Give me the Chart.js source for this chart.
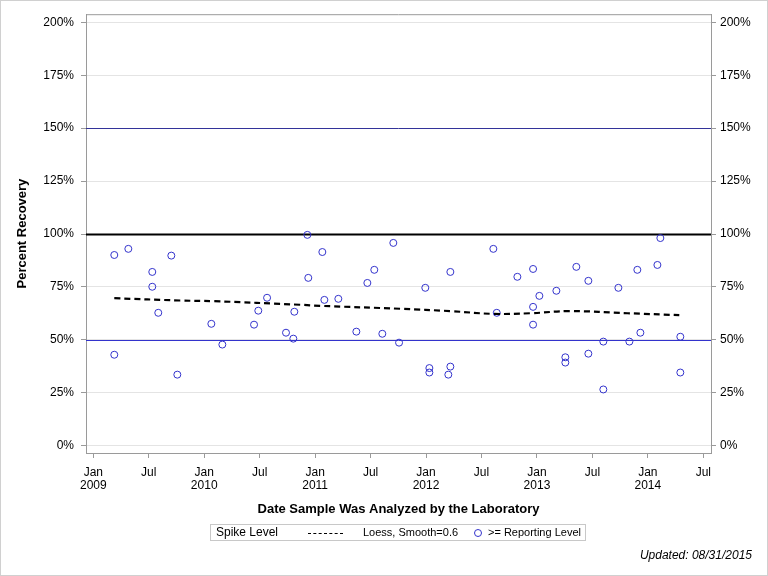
<!DOCTYPE html>
<html>
<head>
<meta charset="utf-8">
<title>Percent Recovery</title>
<script src="https://cdn.jsdelivr.net/npm/chart.js@4"></script>
<style>
    body { margin: 0; background: #fff; font-family: "Liberation Sans", Arial, sans-serif; }
    #wrap { position: relative; width: 768px; height: 576px; }
    #frame { position: absolute; left: 0; top: 0; width: 768px; height: 576px; box-sizing: border-box; border: 1px solid #d0d0d0; pointer-events: none; }
    #legenda { position: absolute; left: 210px; top: 524px; width: 376px; height: 17px; box-sizing: border-box; border: 1px solid #c8c8c8; font-size: 11px; color: #000; }
    #legenda span { position: absolute; top: 1px; white-space: nowrap; }
    #legenda .titulo { left: 5px; top: 0px; font-size: 12px; }
    #legenda .tracos { left: 97px; top: 8px; width: 35px; height: 0; border-top: 1px dashed #000; }
    #legenda .circulo { left: 263px; top: 4px; width: 6px; height: 6px; border: 1px solid #3333cc; border-radius: 50%; }
    #atualizado { position: absolute; right: 16px; top: 548px; font-size: 12px; font-style: italic; color: #000; }
</style>
</head>
<body>
<div id="wrap">
    <canvas id="grafico" width="768" height="576"></canvas>
    <div id="frame"></div>
    <div id="legenda">
        <span class="titulo">Spike Level</span>
        <span class="tracos"></span>
        <span style="left:152px">Loess, Smooth=0.6</span>
        <span class="circulo"></span>
        <span style="left:277px">&gt;= Reporting Level</span>
    </div>
    <div id="atualizado">Updated: 08/31/2015</div>
</div>
<script>
// meses contados a partir de Jan 2009
const amostraMes = [2.27, 3.79, 8.44, 6.38, 6.38, 7.03, 12.77, 13.96, 2.27, 9.09,
    18.80, 17.85, 17.39, 20.85, 21.64, 21.75, 23.16, 23.26, 24.78, 32.46,
    25.00, 26.51, 30.40, 29.65, 28.46, 31.27, 33.08, 35.92, 38.63, 36.36,
    36.36, 38.63, 38.41, 43.28, 43.65, 45.88, 47.58, 48.26, 50.10, 47.58,
    47.58, 52.26, 53.56, 51.07, 51.07, 53.56, 55.18, 55.18, 56.81, 58.00,
    59.19, 58.86, 61.03, 61.35, 63.51, 63.51];
const recuperacao = [90.1, 93.0, 89.8, 82.1, 75.1, 62.8, 57.6, 47.8, 43.0, 33.6,
    69.9, 63.8, 57.2, 53.4, 50.6, 63.3, 99.6, 79.3, 91.5, 95.8,
    68.9, 69.4, 83.1, 76.9, 53.9, 52.9, 48.7, 74.6, 82.1, 36.7,
    34.6, 37.4, 33.6, 93.0, 62.8, 79.8, 83.5, 70.8, 73.2, 65.6,
    57.2, 84.5, 77.9, 41.8, 39.3, 43.5, 49.2, 26.6, 74.6, 49.2,
    53.4, 83.1, 85.4, 98.1, 51.5, 34.6];
const loessMes = [2.27, 9.38, 13.0, 22.37, 24.53, 33.24, 38.65, 43.28, 47.28, 51.6, 57.8, 63.4];
const loessValor = [69.7, 68.6, 68.3, 66.6, 66.1, 64.7, 63.6, 62.3, 62.6, 63.6, 62.6, 61.7];
const niveisRef = [150, 100, 50];
const xTicksMes = [0, 6, 12, 18, 24, 30, 36, 42, 48, 54, 60, 66];
const xTicksTexto = [['Jan', '2009'], 'Jul', ['Jan', '2010'], 'Jul', ['Jan', '2011'], 'Jul',
    ['Jan', '2012'], 'Jul', ['Jan', '2013'], 'Jul', ['Jan', '2014'], 'Jul'];
const yTicks = [0, 25, 50, 75, 100, 125, 150, 175, 200];

const fonte = '"Liberation Sans", Arial, sans-serif';
const cinzaEixo = '#9a9a9a';

const linhasRef = {
    id: 'linhasRef',
    beforeDatasetsDraw(chart) {
        const { ctx, chartArea, scales } = chart;
        const estilos = { 150: ['#333399', 1], 100: ['#000000', 2], 50: ['#3333cc', 1] };
        ctx.save();
        niveisRef.forEach(n => {
            const y = Math.round(scales.y.getPixelForValue(n)) + 0.5;
            ctx.strokeStyle = estilos[n][0];
            ctx.lineWidth = estilos[n][1];
            ctx.beginPath();
            ctx.moveTo(chartArea.left, y);
            ctx.lineTo(chartArea.right, y);
            ctx.stroke();
        });
        // borda de cima do quadro
        ctx.strokeStyle = cinzaEixo;
        ctx.lineWidth = 1;
        ctx.beginPath();
        ctx.moveTo(chartArea.left, chartArea.top + 0.5);
        ctx.lineTo(chartArea.right, chartArea.top + 0.5);
        ctx.stroke();
        ctx.restore();
    }
};

function eixoY(posicao) {
    return {
        type: 'linear',
        position: posicao,
        min: -3.4,
        max: 203.8,
        afterBuildTicks: s => { s.ticks = yTicks.map(v => ({ value: v })); },
        afterFit: s => { s.width = posicao === 'left' ? 86 : 57; },
        ticks: {
            callback: v => v + '%',
            font: { family: fonte, size: 12 },
            color: '#000',
            padding: posicao === 'left' ? 7 : 4
        },
        grid: {
            drawOnChartArea: posicao === 'left',
            color: '#e4e4e4',
            tickColor: cinzaEixo,
            tickLength: 5
        },
        border: { color: cinzaEixo },
        title: {
            display: posicao === 'left',
            text: 'Percent Recovery',
            font: { family: fonte, size: 13, weight: 'bold' },
            color: '#000',
            padding: { top: 15, bottom: 0 }
        }
    };
}

new Chart(document.getElementById('grafico'), {
    type: 'scatter',
    data: {
        datasets: [
            {
                label: '>= Reporting Level',
                data: amostraMes.map((m, i) => ({ x: m, y: recuperacao[i] })),
                pointStyle: 'circle',
                pointRadius: 3.5,
                pointBorderWidth: 1,
                borderColor: '#3333cc',
                backgroundColor: 'rgba(0,0,0,0)',
                order: 2
            },
            {
                label: 'Loess, Smooth=0.6',
                data: loessMes.map((m, i) => ({ x: m, y: loessValor[i] })),
                showLine: true,
                borderColor: '#000',
                borderWidth: 2.2,
                borderDash: [6, 4],
                tension: 0.4,
                pointRadius: 0,
                order: 1
            }
        ]
    },
    options: {
        responsive: false,
        animation: false,
        layout: { padding: { top: 13, left: 0, right: 0, bottom: 0 } },
        plugins: {
            legend: { display: false },
            tooltip: { enabled: false }
        },
        scales: {
            x: {
                type: 'linear',
                position: 'bottom',
                min: -0.79,
                max: 66.83,
                afterBuildTicks: s => { s.ticks = xTicksMes.map(v => ({ value: v })); },
                afterFit: s => { s.height = 123; },
                ticks: {
                    callback: (v, i) => xTicksTexto[i],
                    font: { family: fonte, size: 12, lineHeight: 1.1 },
                    color: '#000',
                    padding: 8,
                    maxRotation: 0,
                    autoSkip: false
                },
                grid: { drawOnChartArea: false, tickColor: cinzaEixo, tickLength: 5 },
                border: { color: cinzaEixo },
                title: {
                    display: true,
                    text: 'Date Sample Was Analyzed by the Laboratory',
                    font: { family: fonte, size: 13, weight: 'bold' },
                    color: '#000',
                    padding: { top: 0, bottom: 59 }
                }
            },
            y: eixoY('left'),
            y2: eixoY('right')
        }
    },
    plugins: [linhasRef]
});
</script>
</body>
</html>
